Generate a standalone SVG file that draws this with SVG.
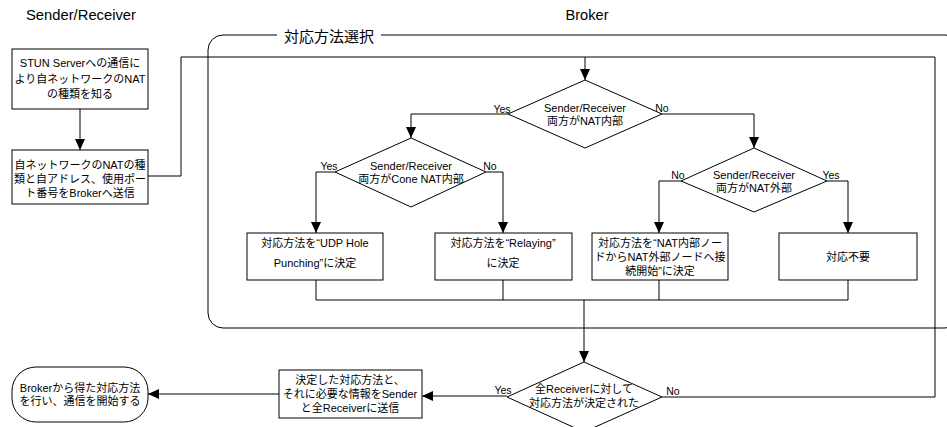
<svg xmlns="http://www.w3.org/2000/svg" width="947" height="427" viewBox="0 0 947 427">
<defs>
<marker id="arr" markerWidth="11" markerHeight="10" refX="11" refY="5" orient="auto" markerUnits="userSpaceOnUse">
<path d="M0,0 L11,5 L0,10 z" fill="#000"/>
</marker>
<style>
.n{fill:#fff;stroke:#000;stroke-width:1}
.c{fill:none;stroke:#000;stroke-width:1}
.t{font-family:"Liberation Sans","Noto Sans CJK JP",sans-serif;font-size:11px;fill:#000;text-anchor:middle}
.l{font-family:"Liberation Sans","Noto Sans CJK JP",sans-serif;font-size:10.5px;fill:#000;text-anchor:middle}
.h{font-family:"Liberation Sans","Noto Sans CJK JP",sans-serif;font-size:14px;fill:#000;text-anchor:middle}
</style>
</defs>
<rect width="947" height="427" fill="#fff"/>
<text class="h" x="81" y="20" textLength="110" lengthAdjust="spacingAndGlyphs">Sender/Receiver</text>
<text class="h" x="587" y="20" textLength="43" lengthAdjust="spacingAndGlyphs">Broker</text>

<g id="frame">
<rect x="208" y="35" width="752" height="293" rx="15" ry="15" fill="none" stroke="#000" stroke-width="1"/>
<rect x="277" y="28" width="104" height="16" fill="#fff"/>
<text x="329" y="42" style="font-family:'Liberation Sans','Noto Sans CJK JP',sans-serif;font-size:15px;text-anchor:middle">対応方法選択</text>
</g>

<g id="connectors">
<path class="c" d="M80,109 V150" marker-end="url(#arr)"/>
<path class="c" d="M148,176 H181 V57 H585"/>
<path class="c" d="M662,397 H935 V57 H585"/>
<path class="c" d="M585,57 V80" marker-end="url(#arr)"/>
<path class="c" d="M508,114 H411 V138" marker-end="url(#arr)"/>
<path class="c" d="M662,114 H754 V148" marker-end="url(#arr)"/>
<path class="c" d="M335,172 H316 V233" marker-end="url(#arr)"/>
<path class="c" d="M486,172 H503 V233" marker-end="url(#arr)"/>
<path class="c" d="M681,181 H659 V233" marker-end="url(#arr)"/>
<path class="c" d="M827,181 H848 V233" marker-end="url(#arr)"/>
<path class="c" d="M316,280 V300 H848 V280"/>
<path class="c" d="M503,280 V300"/>
<path class="c" d="M659,280 V300"/>
<path class="c" d="M584,300 V362" marker-end="url(#arr)"/>
<path class="c" d="M507,396 H422" marker-end="url(#arr)"/>
<path class="c" d="M279,394 H148" marker-end="url(#arr)"/>
<text class="l" x="502" y="113">Yes</text>
<text class="l" x="662" y="112">No</text>
<text class="l" x="329" y="170">Yes</text>
<text class="l" x="490" y="170">No</text>
<text class="l" x="678" y="179">No</text>
<text class="l" x="831" y="179">Yes</text>
<text class="l" x="503" y="394">Yes</text>
<text class="l" x="673" y="395">No</text>
</g>

<g id="stun">
<rect class="n" x="12" y="49" width="136" height="60"/>
<text class="t" x="80" y="67">STUN Serverへの通信に</text>
<text class="t" x="80" y="83">より自ネットワークのNAT</text>
<text class="t" x="80" y="98">の種類を知る</text>
</g>

<g id="send">
<rect class="n" x="12" y="150" width="136" height="54"/>
<text class="t" x="80" y="169">自ネットワークのNATの種</text>
<text class="t" x="80" y="183">類と自アドレス、使用ポー</text>
<text class="t" x="80" y="197">ト番号をBrokerへ送信</text>
</g>

<g id="d1">
<polygon class="n" points="585,80 662,114 585,148 508,114"/>
<text class="t" x="585" y="112">Sender/Receiver</text>
<text class="t" x="585" y="125">両方がNAT内部</text>
</g>

<g id="d2">
<polygon class="n" points="411,138 486,172 411,207 335,172"/>
<text class="t" x="411" y="170">Sender/Receiver</text>
<text class="t" x="411" y="183">両方がCone NAT内部</text>
</g>

<g id="d3">
<polygon class="n" points="754,148 827,181 754,212 681,181"/>
<text class="t" x="754" y="179">Sender/Receiver</text>
<text class="t" x="754" y="192">両方がNAT外部</text>
</g>

<g id="udp">
<rect class="n" x="247" y="233" width="136" height="47"/>
<text class="t" x="315" y="247">対応方法を“UDP Hole</text>
<text class="t" x="315" y="267">Punching”に決定</text>
</g>

<g id="relay">
<rect class="n" x="435" y="233" width="137" height="47"/>
<text class="t" x="503" y="247">対応方法を“Relaying”</text>
<text class="t" x="503" y="267">に決定</text>
</g>

<g id="natout">
<rect class="n" x="592" y="233" width="136" height="47"/>
<text class="t" x="660" y="247">対応方法を“NAT内部ノー</text>
<text class="t" x="660" y="261">ドからNAT外部ノードへ接</text>
<text class="t" x="660" y="275">続開始”に決定</text>
</g>

<g id="none">
<rect class="n" x="779" y="233" width="138" height="47"/>
<text class="t" x="848" y="261">対応不要</text>
</g>

<g id="d4">
<polygon class="n" points="584,362 662,397 584,432 507,397"/>
<text class="t" x="584" y="393">全Receiverに対して</text>
<text class="t" x="584" y="407">対応方法が決定された</text>
</g>

<g id="notify">
<rect class="n" x="279" y="370" width="143" height="48"/>
<text class="t" x="350" y="384">決定した対応方法と、</text>
<text class="t" x="350" y="398">それに必要な情報をSender</text>
<text class="t" x="350" y="412">と全Receiverに送信</text>
</g>

<g id="start">
<rect class="n" x="12" y="367" width="136" height="55" rx="24" ry="24"/>
<text class="t" x="80" y="392">Brokerから得た対応方法</text>
<text class="t" x="80" y="405">を行い、通信を開始する</text>
</g>
</svg>
